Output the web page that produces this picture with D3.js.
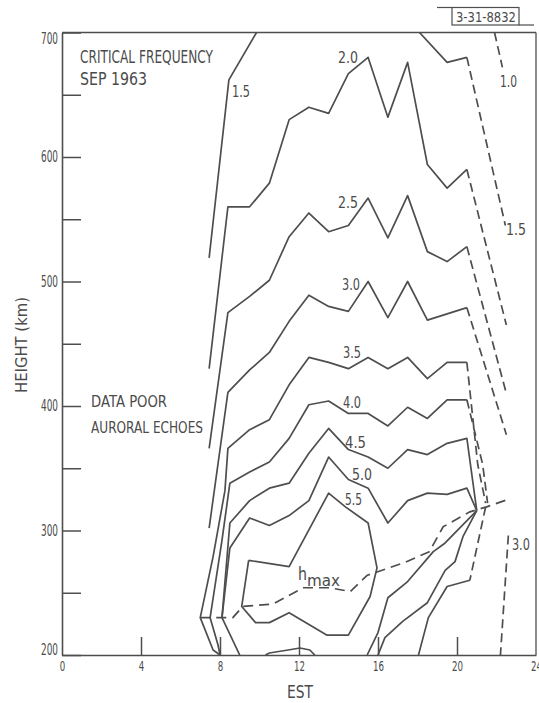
<!DOCTYPE html>
<html>
<head>
<meta charset="utf-8">
<script src="https://cdn.jsdelivr.net/npm/d3@7"></script>
<style>
  html, body { margin: 0; padding: 0; background: #fff; }
  svg { display: block; }
  text { font-family: "DejaVu Sans", "Liberation Sans", sans-serif; fill: #4b4b4b; }
</style>
</head>
<body>
<svg id="chart" width="539" height="703"></svg>
<script>
// Critical frequency (MHz) contours, September 1963: local time (EST, h) vs height (km).

const hourTicks = [0, 4, 8, 12, 16, 20, 24];
const heightTicks = [200, 250, 300, 350, 400, 450, 500, 550, 600, 650, 700];

// Each contour is a list of [EST hour, height km] vertices.
const f10Dash = [[21.9, 700], [22.3, 672]];

const f15Morning = [[9.85, 700], [8.45, 662], [7.45, 519]];
const f15Evening = [[18.1, 700], [19.5, 676], [20.5, 680]];
const f15Dash = [[20.5, 680], [22.45, 545]];

const f20 = [[7.45, 430], [8.4, 560], [9.5, 560], [10.5, 579], [11.5, 630], [12.5, 640], [13.5, 635],
             [14.5, 667], [15.5, 680], [16.5, 632], [17.5, 676], [18.5, 594], [19.5, 575], [20.5, 590]];
const f20Dash = [[20.5, 590], [22.5, 465]];

const f25 = [[7.45, 366], [8.4, 475], [9.5, 488], [10.5, 501], [11.5, 536], [12.5, 555], [13.5, 540],
             [14.5, 545], [15.5, 567], [16.5, 535], [17.5, 569], [18.5, 524], [19.5, 516], [20.5, 528]];
const f25Dash = [[20.5, 528], [22.5, 410]];

const f30 = [[7.45, 302], [8.4, 411], [9.5, 429], [10.5, 443], [11.5, 468], [12.5, 489], [13.5, 480],
             [14.5, 476], [15.5, 500], [16.5, 471], [17.5, 500], [18.5, 469], [19.5, 474], [20.5, 479]];
const f30Dash = [[20.5, 479], [22.5, 377]];

const f35 = [[8.0, 200], [7.65, 204], [7.0, 230], [7.65, 279], [8.25, 332], [8.4, 366], [9.5, 381],
             [10.5, 389], [11.5, 417], [12.5, 439], [13.5, 435], [14.5, 430], [15.5, 439], [16.5, 430],
             [17.5, 439], [18.5, 422], [19.5, 435], [20.5, 435]];
const f35Dash = [[20.5, 435], [21.05, 353], [21.45, 322]];

const f40 = [[8.0, 200], [7.9, 208], [7.5, 230], [8.1, 292], [8.5, 338], [9.5, 347], [10.5, 355],
             [11.5, 374], [12.5, 401], [13.5, 404], [14.5, 394], [15.5, 394], [16.5, 384], [17.5, 399],
             [18.5, 390], [19.5, 405], [20.5, 405]];
const f40Dash = [[20.5, 405], [21.3, 353], [21.55, 322]];

const f45 = [[9.0, 200], [8.1, 230], [8.5, 306], [9.5, 324], [10.5, 334], [11.5, 338], [12.5, 362],
             [13.5, 382], [14.5, 365], [15.5, 359], [16.5, 350], [17.5, 365], [18.5, 361], [19.5, 370],
             [20.5, 374], [21.0, 316]];

const f50 = [[8.1, 230], [8.5, 286], [9.5, 310], [10.5, 304], [11.5, 312], [12.5, 324], [13.5, 359],
             [14.5, 341], [15.5, 334], [16.5, 306], [17.5, 324], [18.5, 330], [19.5, 329], [20.5, 334],
             [21.0, 316]];
const f50Noon = [[10.3, 200], [10.5, 201.6], [11.45, 204], [12.05, 205.6], [12.55, 204], [12.8, 200]];

const f55 = [[9.45, 276], [11.5, 271], [13.5, 330], [14.35, 319], [15.5, 306], [15.95, 270], [15.6, 247],
             [14.5, 216], [13.4, 216], [11.5, 234], [10.5, 226], [9.8, 226], [9.1, 239], [9.45, 276]];

// Branches running from the 21 h convergence down to the base of the layer
const duskA = [[21.0, 316], [19.4, 290], [18.8, 283], [17.5, 259], [16.5, 246], [16.0, 218], [15.45, 200]];
const duskB = [[21.0, 316], [20.3, 295], [19.9, 275], [19.4, 268], [18.5, 242], [17.25, 227], [16.35, 214], [16.0, 200]];
const duskCDash = [[21.45, 319], [20.65, 260]];
const duskC = [[20.65, 260], [19.5, 255], [18.55, 230], [18.05, 200]];

const f30Night = [[22.6, 296], [22.2, 200]];

// Height of the layer peak
const hmax = [[7.0, 230], [8.65, 230], [9.15, 239], [10.7, 241], [12.2, 254], [13.55, 254], [14.6, 251],
              [15.45, 264], [17.3, 274], [18.6, 283], [19.3, 303], [20.65, 315], [21.5, 319], [22.6, 325]];

// Contour labels: text, [hour, km] of the text's left baseline, drawn width
const contourLabels = [
  ["1.5", [8.61, 648], 18], ["2.0", [13.97, 675.5], 20], ["1.0", [22.18, 656], 17],
  ["1.5", [22.48, 537], 20], ["2.5", [13.97, 559], 20], ["3.0", [14.18, 493], 18],
  ["3.5", [14.23, 438.6], 18], ["4.0", [14.23, 398.4], 18], ["4.5", [14.33, 366.3], 21],
  ["5.0", [14.68, 340.6], 20], ["5.5", [14.33, 320.5], 17], ["3.0", [22.78, 284.3], 18]
];

const svg = d3.select("#chart");
const x = d3.scaleLinear().domain([0, 24]).range([62, 536]);
const y = d3.scaleLinear().domain([200, 700]).range([655, 32.5]);
const ink = "#4e4e4e";

svg.append("defs").append("clipPath").attr("id", "plot")
  .append("rect").attr("x", x(0)).attr("y", y(700)).attr("width", x(24) - x(0)).attr("height", y(200) - y(700));

// Axes with inward ticks
const yAxis = d3.axisLeft(y).tickValues(heightTicks).tickSize(-19).tickSizeOuter(0).tickPadding(4)
  .tickFormat(d => d % 100 === 0 ? d : "");
const gy = svg.append("g").attr("transform", `translate(${x(0)},0)`).call(yAxis);
gy.selectAll("text").attr("font-size", 15).attr("textLength", d => d % 100 === 0 ? 17 : null)
  .attr("lengthAdjust", "spacingAndGlyphs")
  .attr("dy", d => d === 700 ? "0.75em" : d === 200 ? "-0.02em" : "0.32em");

const xAxis = d3.axisBottom(x).tickValues(hourTicks).tickSize(-18).tickSizeOuter(0).tickPadding(6)
  .tickFormat(d3.format("d"));
const gx = svg.append("g").attr("transform", `translate(0,${y(200)})`).call(xAxis);
gx.selectAll("text").attr("font-size", 14).attr("textLength", d => d < 10 ? 5.5 : 11)
  .attr("lengthAdjust", "spacingAndGlyphs");
gx.selectAll(".tick").filter(d => d === 0 || d === 24).select("line").remove();

[gx, gy].forEach(g => {
  g.selectAll("line").attr("stroke", ink).attr("stroke-width", 1.5);
  g.select(".domain").attr("stroke", ink).attr("stroke-width", 1.6);
  g.selectAll("text").attr("fill", "#4b4b4b").attr("font-family", "DejaVu Sans, sans-serif");
});

// Top and right edges of the frame
svg.append("line").attr("x1", x(0)).attr("x2", x(24)).attr("y1", y(700)).attr("y2", y(700))
  .attr("stroke", ink).attr("stroke-width", 1.5);
svg.append("line").attr("x1", x(24)).attr("x2", x(24)).attr("y1", y(700)).attr("y2", y(200))
  .attr("stroke", ink).attr("stroke-width", 1.3);

// Contours
const line = d3.line().x(d => x(d[0])).y(d => y(d[1]));
const plot = svg.append("g").attr("clip-path", "url(#plot)")
  .attr("fill", "none").attr("stroke", ink).attr("stroke-width", 1.7).attr("stroke-linejoin", "round");

const solid = [f15Morning, f15Evening, f20, f25, f30, f35, f40, f45, f50, f50Noon, f55, duskA, duskB, duskC];
const dashed = [f10Dash, f15Dash, f20Dash, f25Dash, f30Dash, f35Dash, f40Dash, duskCDash, f30Night];

plot.selectAll("path.solid").data(solid).join("path").attr("class", "solid").attr("d", line);
plot.selectAll("path.dash").data(dashed).join("path").attr("class", "dash").attr("d", line)
  .attr("stroke-dasharray", "9,5");
plot.append("path").datum(hmax).attr("d", line).attr("stroke-dasharray", "10,6");

// Contour labels
svg.append("g").selectAll("text").data(contourLabels).join("text")
  .attr("x", d => x(d[1][0])).attr("y", d => y(d[1][1]))
  .attr("font-size", 16.5).attr("textLength", d => d[2]).attr("lengthAdjust", "spacingAndGlyphs")
  .text(d => d[0]);

// h_max label
const hl = svg.append("text").attr("x", x(11.95)).attr("y", y(260.2)).attr("font-size", 17);
hl.append("tspan").text("h").attr("textLength", 9).attr("lengthAdjust", "spacingAndGlyphs");
hl.append("tspan").attr("dy", 6).attr("font-size", 15).attr("textLength", 33)
  .attr("lengthAdjust", "spacingAndGlyphs").text("max");

// Annotations
function note(str, x0, yb, size, len) {
  return svg.append("text").attr("x", x0).attr("y", yb).attr("font-size", size)
    .attr("textLength", len).attr("lengthAdjust", "spacingAndGlyphs").text(str);
}
note("CRITICAL FREQUENCY", 80, 63, 17.5, 133);
note("SEP 1963", 80, 85, 17.5, 67);
note("DATA POOR", 91, 407, 16.5, 76);
note("AURORAL ECHOES", 91, 433, 16.5, 112);
note("EST", 287, 698, 18, 26);

svg.append("text").attr("transform", "translate(27,345) rotate(-90)").attr("text-anchor", "middle")
  .attr("font-size", 16.5).attr("textLength", 96).attr("lengthAdjust", "spacingAndGlyphs")
  .text("HEIGHT (km)");

// Drawing number stamp
const stamp = svg.append("g").attr("stroke", ink).attr("stroke-width", 1.2).attr("fill", "none");
stamp.append("rect").attr("x", 452).attr("y", 7.5).attr("width", 67).attr("height", 17.5);
stamp.append("line").attr("x1", 437).attr("x2", 452).attr("y1", 7.5).attr("y2", 7.5);
stamp.append("line").attr("x1", 519).attr("x2", 534).attr("y1", 25).attr("y2", 25);
note("3-31-8832", 456, 21.5, 14, 60);
</script>
</body>
</html>
